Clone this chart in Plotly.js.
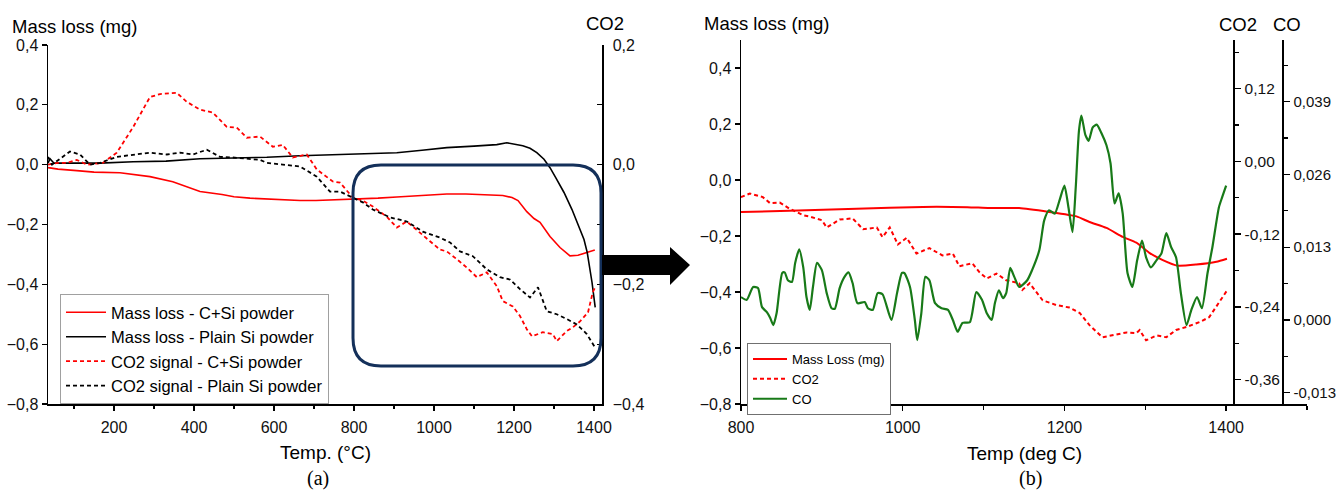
<!DOCTYPE html>
<html><head><meta charset="utf-8">
<script src="https://cdn.plot.ly/plotly-3.0.1.min.js"></script>
<style>html,body{margin:0;padding:0;background:#fff}</style>
</head><body><div id="chart" style="width:1336px;height:493px"></div>
<script>
// ---------- Panel (a) data ----------
const tMassCSi = [35, 60, 107, 150, 215, 290, 347, 415, 470, 500, 540, 582, 620, 665, 705, 747, 790, 822, 860, 907, 960, 1032, 1080, 1115, 1150, 1172, 1195, 1210, 1232, 1250, 1265, 1290, 1315, 1340, 1360, 1372, 1390, 1402];
const massCSi = [-0.01, -0.015, -0.02, -0.025, -0.027, -0.04, -0.057, -0.09, -0.1, -0.107, -0.112, -0.115, -0.118, -0.12, -0.12, -0.118, -0.117, -0.115, -0.112, -0.108, -0.104, -0.098, -0.098, -0.1, -0.1, -0.103, -0.11, -0.12, -0.157, -0.18, -0.193, -0.24, -0.277, -0.305, -0.303, -0.297, -0.29, -0.285];

const tMassSi = [35, 40, 50, 100, 165, 248, 330, 415, 500, 582, 665, 747, 830, 907, 970, 1032, 1100, 1157, 1182, 1200, 1222, 1240, 1257, 1275, 1290, 1305, 1325, 1345, 1362, 1375, 1383, 1395, 1403];
const massSi = [0.005, 0.02, 0.005, 0.005, 0.005, 0.01, 0.012, 0.02, 0.022, 0.025, 0.03, 0.033, 0.035, 0.04, 0.048, 0.057, 0.062, 0.067, 0.073, 0.068, 0.063, 0.055, 0.04, 0.018, -0.01, -0.045, -0.093, -0.15, -0.207, -0.25, -0.293, -0.393, -0.477];

const tCo2CSi = [35, 60, 82, 107, 132, 172, 207, 248, 290, 315, 357, 382, 415, 447, 482, 507, 532, 565, 597, 622, 647, 682, 707, 747, 765, 797, 822, 847, 882, 907, 932, 965, 990, 1015, 1032, 1057, 1082, 1107, 1132, 1157, 1172, 1197, 1215, 1232, 1245, 1272, 1297, 1307, 1332, 1347, 1365, 1385, 1397, 1403];
const co2CSi = [0.0, 0.003, 0.003, 0.008, 0.0, 0.003, 0.02, 0.063, 0.113, 0.118, 0.12, 0.105, 0.092, 0.087, 0.063, 0.062, 0.045, 0.047, 0.03, 0.033, 0.012, 0.017, -0.008, -0.028, -0.03, -0.055, -0.06, -0.07, -0.087, -0.105, -0.095, -0.113, -0.128, -0.142, -0.145, -0.158, -0.172, -0.188, -0.18, -0.203, -0.228, -0.237, -0.253, -0.275, -0.287, -0.28, -0.283, -0.295, -0.278, -0.272, -0.262, -0.247, -0.213, -0.205];

const tCo2Si = [35, 45, 90, 115, 140, 165, 207, 248, 290, 332, 365, 397, 432, 465, 497, 565, 582, 622, 665, 707, 740, 765, 797, 822, 847, 890, 932, 972, 1015, 1040, 1065, 1097, 1132, 1165, 1190, 1215, 1240, 1260, 1282, 1307, 1332, 1357, 1382, 1402];
const co2Si = [0.013, 0.0, 0.022, 0.017, 0.0, 0.003, 0.013, 0.017, 0.02, 0.017, 0.02, 0.017, 0.025, 0.013, 0.012, 0.008, 0.003, 0.0, -0.003, -0.02, -0.045, -0.045, -0.055, -0.063, -0.075, -0.088, -0.095, -0.112, -0.122, -0.13, -0.145, -0.153, -0.175, -0.188, -0.192, -0.208, -0.222, -0.205, -0.245, -0.25, -0.258, -0.267, -0.283, -0.305];

// ---------- Panel (b) data ----------
const tMassR = [800, 860, 943, 1025, 1080, 1107, 1144, 1181, 1215, 1231, 1252, 1272, 1289, 1305, 1321, 1340, 1363, 1388, 1401];
const massR = [-0.114, -0.11, -0.103, -0.096, -0.097, -0.1, -0.1, -0.114, -0.13, -0.15, -0.171, -0.203, -0.224, -0.26, -0.285, -0.306, -0.302, -0.292, -0.281];

const tCo2R = [800, 811, 827, 836, 848, 860, 877, 885, 900, 906, 922, 938, 951, 968, 975, 984, 994, 1005, 1017, 1033, 1049, 1062, 1070, 1086, 1095, 1104, 1116, 1128, 1144, 1148, 1157, 1173, 1190, 1206, 1219, 1231, 1247, 1259, 1277, 1289, 1293, 1301, 1314, 1326, 1338, 1351, 1367, 1379, 1391, 1401];
const co2R = [-0.059, -0.053, -0.059, -0.069, -0.068, -0.078, -0.089, -0.091, -0.097, -0.109, -0.096, -0.094, -0.112, -0.109, -0.125, -0.109, -0.137, -0.126, -0.152, -0.143, -0.155, -0.152, -0.173, -0.168, -0.183, -0.193, -0.185, -0.196, -0.201, -0.212, -0.201, -0.229, -0.237, -0.241, -0.25, -0.27, -0.29, -0.287, -0.282, -0.283, -0.278, -0.295, -0.287, -0.29, -0.278, -0.273, -0.265, -0.257, -0.234, -0.213];

const tCoR = [800, 807, 815, 821, 826, 832, 836, 840, 844, 851, 854, 858, 863, 867, 872, 877, 881, 885, 889, 894, 900, 906, 912, 916, 922, 928, 933, 938, 944, 953, 957, 963, 969, 975, 986, 993, 999, 1002, 1009, 1015, 1018, 1023, 1028, 1033, 1040, 1048, 1056, 1062, 1068, 1074, 1083, 1091, 1098, 1104, 1110, 1114, 1119, 1124, 1128, 1133, 1138, 1144, 1154, 1160, 1169, 1175, 1181, 1188, 1194, 1200, 1205, 1210, 1214, 1218, 1221, 1226, 1230, 1235, 1240, 1246, 1252, 1257, 1262, 1267, 1272, 1278, 1284, 1290, 1296, 1301, 1307, 1314, 1320, 1326, 1332, 1338, 1344, 1351, 1357, 1364, 1370, 1377, 1383, 1391, 1395, 1400];
const coR = [0.0041, 0.0036, 0.0059, 0.0057, 0.0023, 0.0014, 0.0004, -0.0009, 0.0012, 0.0084, 0.0085, 0.0071, 0.0068, 0.0102, 0.0126, 0.0094, 0.0041, 0.0018, 0.0059, 0.0102, 0.0089, 0.0048, 0.0021, 0.002, 0.0057, 0.0077, 0.0085, 0.0066, 0.003, 0.0032, 0.0021, 0.0018, 0.0048, 0.0046, 0.0, 0.0048, 0.0084, 0.0084, 0.0059, 0.0, -0.0036, 0.0012, 0.0077, 0.0071, 0.003, 0.0021, 0.0018, 0.0, -0.0021, -0.0005, -0.0004, 0.005, 0.0036, 0.0012, 0.0, 0.003, 0.0053, 0.0039, 0.0048, 0.0093, 0.0077, 0.0059, 0.0071, 0.0089, 0.0125, 0.0178, 0.0196, 0.019, 0.0214, 0.024, 0.0201, 0.0157, 0.0237, 0.0338, 0.0365, 0.033, 0.032, 0.0344, 0.0349, 0.0333, 0.0312, 0.028, 0.0208, 0.0226, 0.0191, 0.0084, 0.0059, 0.0107, 0.0142, 0.0112, 0.0094, 0.0107, 0.0119, 0.0155, 0.013, 0.0112, 0.0048, -0.0009, 0.0018, 0.0041, 0.0021, 0.0084, 0.013, 0.0201, 0.0219, 0.024];

// ---------- labels ----------
const legendA = ['Mass loss - C+Si powder', 'Mass loss - Plain Si powder', 'CO2 signal - C+Si powder', 'CO2 signal - Plain Si powder'];
const legendB = ['Mass Loss (mg)', 'CO2', 'CO'];
const co2RTickVals = [-0.36, -0.24, -0.12, 0, 0.12];
const co2RTickText = ['-0,36', '-0,24', '-0,12', '0,00', '0,12'];
const coRTickVals = [-0.013, 0, 0.013, 0.026, 0.039];
const coRTickText = ['-0,013', '0,000', '0,013', '0,026', '0,039'];

// ---------- layout helpers ----------
const W = 1336, H = 493;
const px = x => x / W;
const py = y => 1 - y / H;
const FONT = 'Liberation Sans, Arial, sans-serif';
const RED = '#ff0000', GREEN = '#187a18', NAVY = '#14305a';

function roundRect(l, t, r, b, rad) {
  const P = (x, y) => px(x) + ',' + py(y);
  return 'M' + P(l + rad, t) + ' L' + P(r - rad, t) + ' Q' + P(r, t) + ' ' + P(r, t + rad) +
    ' L' + P(r, b - rad) + ' Q' + P(r, b) + ' ' + P(r - rad, b) +
    ' L' + P(l + rad, b) + ' Q' + P(l, b) + ' ' + P(l, b - rad) +
    ' L' + P(l, t + rad) + ' Q' + P(l, t) + ' ' + P(l + rad, t) + ' Z';
}
function arrowPath() {
  const P = (x, y) => px(x) + ',' + py(y);
  return 'M' + P(602, 255) + ' L' + P(670, 255) + ' L' + P(670, 247) + ' L' + P(690, 265) +
    ' L' + P(670, 285) + ' L' + P(670, 275) + ' L' + P(602, 275) + ' Z';
}

const traces = [
  {x: tMassCSi, y: massCSi, xaxis: 'x', yaxis: 'y', name: legendA[0], mode: 'lines', line: {color: RED, width: 1.6}, legend: 'legend'},
  {x: tMassSi, y: massSi, xaxis: 'x', yaxis: 'y', name: legendA[1], mode: 'lines', line: {color: '#000', width: 1.6}, legend: 'legend'},
  {x: tCo2CSi, y: co2CSi, xaxis: 'x', yaxis: 'y2', name: legendA[2], mode: 'lines', line: {color: RED, width: 1.8, dash: '4px,3px'}, legend: 'legend'},
  {x: tCo2Si, y: co2Si, xaxis: 'x', yaxis: 'y2', name: legendA[3], mode: 'lines', line: {color: '#000', width: 1.8, dash: '4px,3px'}, legend: 'legend'},
  {x: tMassR, y: massR, xaxis: 'x2', yaxis: 'y3', name: legendB[0], mode: 'lines', line: {color: RED, width: 2, shape: 'spline', smoothing: 0.5}, legend: 'legend2'},
  {x: tCo2R, y: co2R, xaxis: 'x2', yaxis: 'y4', name: legendB[1], mode: 'lines', line: {color: RED, width: 2, dash: '4px,3px'}, legend: 'legend2'},
  {x: tCoR, y: coR, xaxis: 'x2', yaxis: 'y5', name: legendB[2], mode: 'lines', line: {color: GREEN, width: 2.2, shape: 'spline', smoothing: 0.6}, legend: 'legend2'}
];

const tickFont = {family: FONT, size: 16, color: '#111'};
const common = {showline: true, linecolor: '#000', linewidth: 1.5, showgrid: false, zeroline: false,
  tickcolor: '#000', tickwidth: 1.3, tickfont: tickFont, fixedrange: true};

const layout = {
  width: W, height: H, autosize: false,
  margin: {l: 0, r: 0, t: 0, b: 0, autoexpand: false},
  paper_bgcolor: '#fff', plot_bgcolor: 'rgba(0,0,0,0)',
  separators: ',.',
  font: {family: FONT, color: '#000'},
  showlegend: true,
  xaxis: Object.assign({}, common, {domain: [px(48), px(602)], range: [35, 1420], anchor: 'y',
    tick0: 0, dtick: 200, ticks: 'outside', ticklen: 5, ticklabelstandoff: 3,
    minor: {ticks: 'outside', ticklen: 3, dtick: 100, tickcolor: '#000', tickwidth: 1.2}}),
  yaxis: Object.assign({}, common, {domain: [py(404), py(45)], range: [-0.8, 0.4], anchor: 'x',
    tick0: 0, dtick: 0.2, tickformat: '.1f', ticks: 'outside', ticklen: 5}),
  yaxis2: Object.assign({}, common, {overlaying: 'y', side: 'right', anchor: 'x', range: [-0.4, 0.2],
    tick0: 0, dtick: 0.2, tickformat: '.1f', ticks: 'inside', ticklen: 5, ticklabelstandoff: 6,
    minor: {ticks: 'inside', ticklen: 5, dtick: 0.1, tickcolor: '#000', tickwidth: 1.2}}),
  xaxis2: Object.assign({}, common, {domain: [px(741), px(1307)], range: [800, 1500], anchor: 'y3',
    tick0: 0, dtick: 200, ticks: 'outside', ticklen: 5, ticklabelstandoff: 3,
    minor: {ticks: 'outside', ticklen: 4, dtick: 100, tickcolor: '#000', tickwidth: 1.2}}),
  yaxis3: Object.assign({}, common, {domain: [py(404), py(40)], range: [-0.8, 0.5], anchor: 'x2',
    tick0: 0, dtick: 0.2, tickformat: '.1f', ticks: 'outside', ticklen: 5}),
  yaxis4: Object.assign({}, common, {overlaying: 'y3', side: 'right', anchor: 'free', position: px(1233),
    range: [-0.4, 0.2], tickmode: 'array', tickvals: co2RTickVals, ticktext: co2RTickText,
    ticks: 'outside', ticklen: 6, ticklabelstandoff: 1, tickfont: {family: FONT, size: 15.5, color: '#111'},
    minor: {tickmode: 'linear', tick0: 0.06, dtick: 0.12, ticks: 'outside', ticklen: 4, tickcolor: '#000', tickwidth: 1.2}}),
  yaxis5: Object.assign({}, common, {overlaying: 'y3', side: 'right', anchor: 'free', position: px(1282),
    range: [-0.015, 0.05], tickmode: 'array', tickvals: coRTickVals, ticktext: coRTickText,
    ticks: 'outside', ticklen: 6, ticklabelstandoff: 1, tickfont: {family: FONT, size: 15, color: '#111'},
    minor: {tickmode: 'linear', tick0: 0.0065, dtick: 0.013, ticks: 'outside', ticklen: 4, tickcolor: '#000', tickwidth: 1.2}}),
  legend: {x: px(60), y: py(294), xanchor: 'left', yanchor: 'top', bgcolor: '#fff',
    bordercolor: '#a0a0a0', borderwidth: 1, font: {family: FONT, size: 16.5, color: '#000'},
    tracegroupgap: 0, itemwidth: 40},
  legend2: {x: px(747), y: py(343), xanchor: 'left', yanchor: 'top', bgcolor: '#fff',
    bordercolor: '#707070', borderwidth: 1, font: {family: FONT, size: 13, color: '#000'},
    tracegroupgap: 0, itemwidth: 34},
  shapes: [
    {type: 'path', xref: 'paper', yref: 'paper', path: roundRect(353, 165, 601, 366, 28),
      line: {color: NAVY, width: 3}, fillcolor: 'rgba(0,0,0,0)', layer: 'above'},
    {type: 'path', xref: 'paper', yref: 'paper', path: arrowPath(),
      line: {color: '#000', width: 0}, fillcolor: '#000', layer: 'above'}
  ],
  annotations: [
    {text: 'Mass loss (mg)', x: px(10), y: py(26), xref: 'paper', yref: 'paper', xanchor: 'left', yanchor: 'middle', showarrow: false, font: {family: FONT, size: 18.5}},
    {text: 'CO2', x: px(605), y: py(23), xref: 'paper', yref: 'paper', xanchor: 'center', yanchor: 'middle', showarrow: false, font: {family: FONT, size: 18.5}},
    {text: 'Temp. (°C)', x: px(325), y: py(452), xref: 'paper', yref: 'paper', xanchor: 'center', yanchor: 'middle', showarrow: false, font: {family: FONT, size: 19}},
    {text: '(a)', x: px(318), y: py(478), xref: 'paper', yref: 'paper', xanchor: 'center', yanchor: 'middle', showarrow: false, font: {family: 'Liberation Serif, Times New Roman, serif', size: 20}},
    {text: 'Mass loss (mg)', x: px(702), y: py(23), xref: 'paper', yref: 'paper', xanchor: 'left', yanchor: 'middle', showarrow: false, font: {family: FONT, size: 18.5}},
    {text: 'CO2', x: px(1238), y: py(25), xref: 'paper', yref: 'paper', xanchor: 'center', yanchor: 'middle', showarrow: false, font: {family: FONT, size: 18.5}},
    {text: 'CO', x: px(1287), y: py(25), xref: 'paper', yref: 'paper', xanchor: 'center', yanchor: 'middle', showarrow: false, font: {family: FONT, size: 18.5}},
    {text: 'Temp (deg C)', x: px(1024), y: py(453), xref: 'paper', yref: 'paper', xanchor: 'center', yanchor: 'middle', showarrow: false, font: {family: FONT, size: 19}},
    {text: '(b)', x: px(1030), y: py(478), xref: 'paper', yref: 'paper', xanchor: 'center', yanchor: 'middle', showarrow: false, font: {family: 'Liberation Serif, Times New Roman, serif', size: 20}}
  ]
};

Plotly.newPlot('chart', traces, layout, {displayModeBar: false, staticPlot: true});
</script></body></html>
